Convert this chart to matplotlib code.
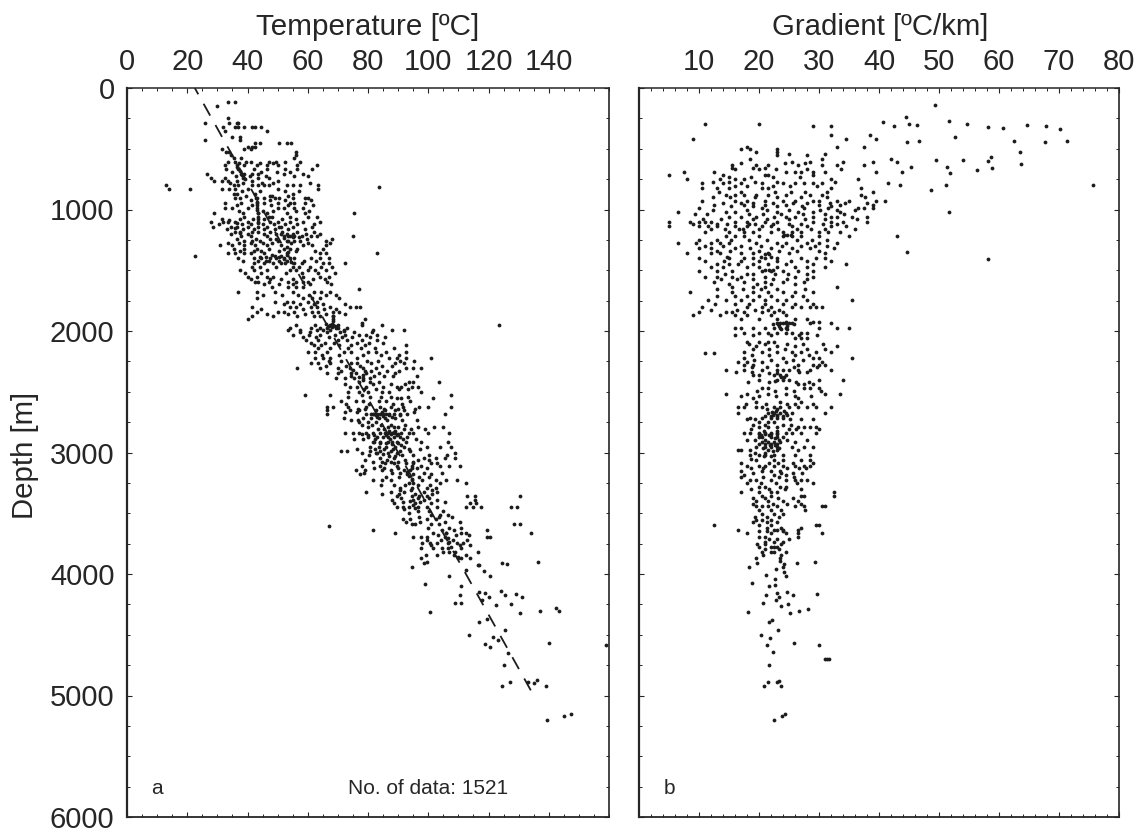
import matplotlib
matplotlib.use("Agg")
import matplotlib.pyplot as plt
from matplotlib.ticker import MultipleLocator

plt.rcParams['font.family'] = ['Liberation Sans', 'DejaVu Sans']

# each depth row (m) holds the temperatures (C) read at that depth
temp_depths = [112, 148, 250, 290, 318, 350, 400, 428, 455, 483, 505, 524, 551, 579, 606, 634, 669, 708, 743, 765,
               798, 812, 834, 872, 908, 944, 990, 1026, 1059, 1100, 1141, 1182, 1218, 1256, 1292, 1325, 1361, 1380,
               1402, 1443, 1498, 1553, 1594, 1635, 1657, 1676, 1731, 1759, 1800, 1841, 1877, 1904, 1931, 1950, 1978,
               1990, 2032, 2074, 2115, 2170, 2224, 2266, 2307, 2348, 2389, 2416, 2458, 2499, 2526, 2554, 2580, 2622,
               2650, 2685, 2712, 2745, 2792, 2836, 2869, 2910, 2951, 2984, 3006, 3042, 3075, 3108, 3143, 3179, 3226,
               3250, 3289, 3322, 3355, 3390, 3418, 3450, 3500, 3514, 3549, 3590, 3604, 3637, 3664, 3692, 3741, 3788,
               3815, 3870, 3899, 3904, 3912, 3921, 3926, 3940, 3967, 3975, 4014, 4080, 4099, 4140, 4151, 4154, 4165,
               4173, 4187, 4214, 4242, 4247, 4255, 4283, 4305, 4310, 4324, 4373, 4398, 4464, 4505, 4519, 4543, 4571,
               4579, 4582, 4598, 4648, 4752, 4873, 4889, 4892, 4894, 4925, 5152, 5171, 5202]
temp_values = [
    [33.5, 36], [30], [33.5], [26, 34, 36.5, 37], [32, 36, 37, 39, 41.5, 42.5, 44.5], [46.5, 32.5], [35, 37.5],
    [26, 37.5], [42.5, 44, 50.5, 53, 54.5], [40, 41.5, 42.5], [31.5, 39, 41], [33, 34, 56], [34.5, 56],
    [35.5, 38, 55.5], [33.5, 36, 39.5, 41, 47, 49.5, 52.5, 57.5], [32.5, 36.5, 39, 43, 46.5, 50, 56.5, 63],
    [33, 37, 42, 46.5, 52.5, 56.5, 61.5], [26.5, 38, 39, 41.5, 43.5, 52, 58.5], [28, 32.5, 38.5, 43.5, 47],
    [29, 31.5, 33.5, 36.5, 41.5, 50], [13, 35.5, 37, 41.5, 43.5, 45.5, 47, 53, 55, 57.5, 63.5], [83.5],
    [14, 21, 31.5, 34, 36, 40, 63.5, 50], [35.5, 36.5, 42.5, 55], [36, 37.5, 43, 45.5, 49, 50.5, 55, 60, 59],
    [32.5, 38, 43, 45.5, 50, 54, 55.5, 59], [32.5, 35, 40, 43, 50, 52, 55.5, 58.5], [29, 38.5, 43.5, 46.5, 53, 59, 75.5],
    [39, 43.5, 47, 48, 54, 60, 63], [28, 32, 33.5, 36, 40, 43.5, 47.5, 50, 54, 58.5, 64],
    [28.5, 34.5, 36.5, 40, 43.5, 46.5, 50.5, 51, 55, 61.5], [36, 37.5, 41.5, 43.5, 47.5, 51.5, 56.5, 62],
    [38, 41, 46.5, 52, 53.5, 55.5, 58, 61, 63, 75], [39, 41.5, 44, 50, 53, 55.5, 57.5, 66],
    [31, 35, 39, 42.5, 46.5, 51, 58.5, 61.5, 66], [35.5, 39, 43, 47, 52, 54, 56.5, 65],
    [33.5, 36, 39, 41, 45.5, 53, 83, 64, 66], [22.5], [37, 42, 44.5, 47.5, 49.5, 52, 55.5, 61, 64, 67],
    [42, 45.5, 48.5, 51, 52.5, 55.5, 58, 65, 67, 72.5], [37.5, 42, 46.5, 54, 56, 60, 62.5, 66],
    [40, 43, 46.5, 48.5, 58.5, 64, 67], [42.5, 43.5, 47, 53.5, 56, 58.5, 60, 66.5], [48, 53.5, 56, 58.5], [77],
    [37, 43, 49, 55, 62, 64.5, 67.5], [43, 58.5, 61.5, 64, 70.5], [49, 53, 55, 60, 63],
    [41.5, 54, 56, 61, 63, 67.5, 74, 76, 77.5], [43, 50, 52, 55.5, 61.5, 63.5, 68.5, 70.5],
    [41.5, 48.5, 56.5, 62, 64, 68.5], [40, 68.5, 79], [78], [56, 62.5, 67.5, 68.5, 70, 78, 84.5, 123.5],
    [54, 61, 64, 66.5, 69.5, 73], [53.5, 57.5, 63, 65, 67.5, 72, 81.5, 88, 92], [55, 60.5, 64, 69, 72.5, 77, 79.5, 83],
    [59.5, 63.5, 70, 73, 78, 83], [62, 64.5, 70.5, 74.5, 79, 92.5], [60, 62.5, 66.5, 72, 74.5, 80, 82.5, 86, 92.5],
    [62.5, 65, 67.5, 76.5, 87, 89.5, 92.5, 101], [61, 63.5, 67.5, 74.5, 76.5, 81, 89, 92],
    [56.5, 64, 70, 74, 78.5, 82.5, 92.5, 95, 97.5], [66.5, 70, 74.5, 79.5, 83.5, 89], [69.5, 72.5, 75.5, 78.5, 80.5],
    [77, 80.5, 83.5, 93.5, 95, 103.5], [74, 76.5, 79.5, 85, 89.5, 91, 94.5, 96.5], [73.5, 77, 80, 84.5, 87, 97.5],
    [59, 67.5, 78, 107.5], [89.5, 91, 101.5], [71, 76, 78.5, 83.5, 86, 94],
    [66.5, 68.5, 73.5, 79.5, 84, 87.5, 91.5, 97, 100, 107.5], [66.5, 74, 77, 82.5, 85.5, 89, 92],
    [66.5, 79.5, 81, 82, 83, 84, 85, 86, 87, 88.5, 90.5, 93, 105.5], [72, 78.5, 81, 83.5, 85.5, 89], [77, 80, 82.5],
    [80, 86.5, 88.5, 90, 96.5, 102, 105], [72.5, 75, 77, 79.5, 81.5, 84, 85.5, 86.5, 88, 89, 91, 93.5, 95, 100, 107],
    [80, 83, 85, 86.5, 88.5, 90.5, 93], [81.5, 84, 86.5, 88, 89.5, 92.5, 97.5, 106.5],
    [80.5, 83.5, 86, 89, 92, 99.5, 104, 107.5], [71, 73, 80.5, 84, 87.5, 90.5, 94], [78, 82.5, 86.5, 89.5, 109],
    [84, 88.5, 98.5, 102.5, 105.5, 109], [81.5, 84.5, 87.5, 90, 95], [78, 84, 89.5, 94.5, 97.5, 104, 107, 110.5],
    [76, 79, 84.5, 87.5, 92, 94], [77.5, 93, 95, 101], [81.5, 84.5, 87.5, 94.5, 98, 102.5, 106, 109.5],
    [93.5, 95, 104, 112.5], [90.5, 94.5, 99.5, 102.5], [79.5, 87.5, 92, 98.5, 103],
    [89.5, 94.5, 97, 99.5, 113, 115.5, 130.5], [88, 95, 98.5, 103, 115.5], [88.5, 95.5, 101, 114, 116],
    [89.5, 91.5, 93.5, 96.5, 99.5, 103, 112.5, 115, 117.5, 127.5, 129.5], [93.5], [101, 104, 106.5],
    [91.5, 94, 99.5, 102.5], [94.5, 95.5, 101, 103.5, 128.5, 130.5], [67], [81.5, 104.5, 108.5, 119.5],
    [89, 101.5, 106, 111, 112.5, 134], [95, 97.5, 99.5, 105.5, 120.5, 119.5], [98, 100.5, 103, 106.5, 109.5, 111.5],
    [97.5, 101.5, 104.5, 106.5, 111], [105, 109, 116.5, 107], [97.5, 111, 114, 110], [136.5], [99.5], [98.5, 124.5],
    [126], [117, 116.5], [94.5], [112.5], [118.5], [107, 120.5], [99], [111], [124], [117], [119], [129], [110.5, 125.5],
    [120, 131], [118], [109, 111], [127.5], [122.5], [142.5], [137, 143.5], [100.5], [130.5], [119.5], [117], [125.5],
    [113.5], [121.5], [123], [140], [119], [159], [120.5], [126.5], [125], [136], [133], [127], [135], [124.5, 139],
    [147.5], [145], [139.5]]

# second pass over the dense part of the cloud
temp_depths_dense = [620, 650, 680, 690, 715, 725, 750, 780, 850, 890, 905, 925, 935, 965, 1000, 1010, 1030, 1075, 1080,
                     1090, 1110, 1115, 1120, 1155, 1160, 1195, 1200, 1205, 1215, 1225, 1230, 1235, 1240, 1260, 1275,
                     1305, 1345, 1350, 1375, 1385, 1395, 1400, 1410, 1420, 1430, 1470, 1525, 1575, 1615, 1700, 1780,
                     1820, 1860, 1880, 1920, 1940, 1960, 1970, 1975, 2000, 2010, 2050, 2095, 2140, 2200, 2245, 2290,
                     2320, 2330, 2345, 2360, 2370, 2375, 2405, 2440, 2480, 2540, 2600, 2640, 2670, 2680, 2695, 2700,
                     2705, 2710, 2730, 2770, 2810, 2820, 2825, 2835, 2845, 2850, 2855, 2860, 2890, 2915, 2920, 2925,
                     2930, 2935, 2970, 3000, 3015, 3020, 3025, 3030, 3060, 3090, 3125, 3130, 3160, 3165, 3190, 3200,
                     3215, 3270, 3310, 3340, 3375, 3400, 3405, 3430, 3460, 3465, 3480, 3530, 3570, 3620, 3660, 3680,
                     3700, 3720, 3740, 3760, 3780, 3840, 3860]
temp_values_dense = [
    [37.3, 44.2, 48.4], [36.5], [37.5], [34.8, 44.6, 49.8, 54.2], [38.3], [36.2, 40.8, 46.2, 55.6, 60.2], [39.2],
    [34.2, 38.6, 44.8, 48.4, 60.6], [38.2, 44.2, 52.4, 57.2], [39.4, 47.6, 53.6, 48.2], [42.8], [41.2, 47.4, 52.6, 61],
    [43], [36.6, 41.4, 43, 47.8, 53.4, 61.6], [43.2], [37.2, 45.2, 48.6, 56.2, 60.4], [43.4],
    [31.4, 37.6, 41.8, 45.6, 51.4, 56.2], [43.6], [34], [36.5], [43.6], [30.6, 38.2, 41.2, 45.2, 48.8, 52.4, 56.4, 62.2],
    [36], [33.2, 38.4, 42.2, 45.4, 49.2, 53.4, 59.2], [37.5], [34.6, 40.2, 45.6, 49.4, 55, 59.4, 64.2], [51, 53], [54],
    [55], [57], [52], [36.4, 42.8, 47.4, 49.6, 59.6, 68], [53.5], [33.4, 37.2, 41, 45.2, 48.2, 54.6, 60.2, 67.4], [53],
    [37.4, 42.2, 44.6, 50.6, 56, 62.4], [53.5], [48, 53], [49, 51], [50.5, 46, 44], [54], [52],
    [38.4, 43.4, 46, 47, 50.4, 53, 58.6, 62.6], [54.5], [41.4, 44.2, 49.4, 55, 57, 60.6, 64.4, 68.2],
    [39.2, 44.6, 52.8, 58.2, 63.4, 69], [41.2, 47.6, 51.2, 55.2, 61.8, 65.6], [45.4, 50.6, 55, 60.8, 67.6],
    [45.2, 51.6, 56.8, 60.4, 66.2, 69.4], [52.2, 57.4, 62.2, 65.2, 72.2], [44.6, 58.4, 65.4, 69.4],
    [46.4, 53.6, 59.2, 66, 72.4], [68.5], [68.5], [68, 66], [67, 69], [68], [70], [72],
    [57.4, 60.6, 66.4, 70.6, 75.2, 81.2], [58.4, 62.6, 67, 71.4, 74.8, 80.6, 85.6], [61, 65.6, 68.6, 76.2, 80.4, 85],
    [63.4, 67.4, 73.2, 77.6, 82.2, 88.6], [64.8, 70.4, 78.2, 84.4, 90.4], [67, 71.2, 79.6, 83.4, 90.6, 95.4],
    [66, 72.6, 77.2, 84.6, 88], [75], [71.2, 79, 81, 86.2, 90.4], [76], [78.5], [74.2, 82, 85.2, 88.4, 96.2], [77], [78.5],
    [72.4, 81.6, 87.6, 92.2], [78.6, 82.6, 90.4, 93.2], [73.2, 80.6, 84.4, 87.6, 93.4], [72.6, 80.4, 88.2, 91.4],
    [76.6, 79, 85.2, 90, 95.6], [72.4, 76.4, 84.8, 95.2], [81.5], [82.5, 87, 90.5], [85], [83], [88],
    [74.4, 76.6, 86.4, 91.4, 96.4], [78, 81.2, 84.4, 87.6, 92.4], [83.2, 85.2, 91.8, 94.2, 99], [89], [87], [88.5], [90],
    [78, 87.5], [80, 86], [82, 89.5], [75.4, 78.4, 82.2, 87.4, 91.6, 95.8], [82], [86], [84, 90], [88], [91],
    [76.2, 82.2, 85.2, 88.4, 93.6, 97.4], [83], [85], [80.2, 91.2, 95, 100.4, 106.2], [87], [89],
    [79, 86.2, 92.4, 96.6, 100.4], [85.6, 88.6, 92.6, 95, 100.8, 103], [94.5], [82, 85.4, 90, 96.4, 99.6], [93],
    [78.6, 88, 90.6, 98.6, 104.6], [93.5], [86, 90.4, 97, 100.4], [94.5], [84.4, 88.6, 92.4, 96.6, 100.6],
    [90.6, 94.4, 101.4], [84.6, 90.4, 95.6, 101.2], [91, 96.6, 100.4], [94], [91.6, 97.4, 105.4], [95], [95.5], [92],
    [96.6, 100.4, 105], [97, 103.6, 108], [92.6, 97.4, 105.6, 110.4], [100, 107, 111], [106], [103.2, 109.2, 113.6],
    [106.5], [99.6, 104.2, 108.2, 113], [107], [101, 110.4, 114], [107.5], [99.4, 103, 108.4, 112.6], [110]]

line_depth = [0, 5000]
line_temp = [22.5, 135]

# gradient rows (C/km) by depth (m)
grad_depths = [140, 236, 272, 277, 294, 296, 299, 305, 310, 316, 321, 326, 337, 387, 403, 420, 433, 439, 444, 483, 505,
               524, 551, 565, 587, 595, 603, 606, 628, 634, 653, 655, 661, 675, 689, 697, 716, 752, 785, 796, 801, 826,
               840, 880, 927, 963, 990, 1018, 1059, 1100, 1136, 1182, 1218, 1278, 1320, 1350, 1355, 1402, 1410, 1449,
               1503, 1553, 1594, 1635, 1676, 1745, 1800, 1841, 1870, 1923, 1936, 1978, 2019, 2055, 2087, 2123, 2170,
               2183, 2224, 2252, 2279, 2320, 2362, 2403, 2438, 2471, 2518, 2554, 2581, 2628, 2677, 2700, 2713, 2745,
               2792, 2836, 2850, 2875, 2910, 2930, 2951, 2979, 3020, 3061, 3108, 3149, 3184, 3226, 3280, 3322, 3357,
               3396, 3439, 3505, 3555, 3596, 3637, 3664, 3697, 3733, 3774, 3815, 3870, 3893, 3899, 3907, 3912, 3918,
               3940, 3945, 3962, 3981, 4011, 4014, 4044, 4077, 4091, 4099, 4151, 4159, 4167, 4173, 4187, 4214, 4242,
               4247, 4261, 4291, 4302, 4310, 4324, 4379, 4398, 4464, 4505, 4530, 4568, 4582, 4585, 4645, 4700, 4752,
               4878, 4889, 4892, 4925, 5152, 5171, 5204]
grad_values = [
    [49.4], [44.5], [51.7], [40.7], [45], [11, 20], [54.7], [46.4, 64.7], [29, 32, 42.5], [67.8], [58.1], [60.7], [70.2],
    [32, 38.5], [52.7], [9, 34.5, 39.5], [46.7], [62.5, 71.3], [44.6, 67.7], [33, 37.5, 18], [17, 18.5, 23], [19.5, 23, 63.5],
    [23, 28], [58.6], [18.5, 42, 30.5], [49.5, 54], [58.1], [25.5, 28.5, 39, 34, 43], [63.7],
    [15.5, 19.5, 21.5, 26.5, 30.5, 33, 37.5], [45.3, 51.3], [15.5, 19, 21], [58.8], [56.3],
    [12.5, 7.5, 24.5, 26, 27, 29, 31, 39.5, 43.8], [51.8], [5, 14, 21.5, 21, 29], [8, 13.5, 16, 17.5, 32, 36.5],
    [10.5, 14, 17, 20.5, 24, 26, 27.5, 29, 30.5, 41.5], [43.5, 51.2], [75.7], [10.5, 13, 15, 20.5, 21.5, 37, 32], [48.6],
    [14.5, 16, 17.5, 19.5, 21.5, 24.5, 28.5, 30.5, 37], [10.5, 16, 18, 21, 24, 26, 29, 30, 33, 35, 39.5, 41],
    [12.5, 17.5, 21, 24.5, 30, 33.5, 39], [10, 20.5, 27.5, 31.5, 36.5, 37.5, 39], [6.5, 14.5, 16, 23, 26.5, 29, 33.5, 51.7],
    [15, 17, 19.5, 22.5, 24.5, 26, 29, 32, 33, 35.5, 38], [5, 8.5, 10, 11, 12, 16, 18, 21, 23, 29, 32, 34, 38],
    [5, 10, 11.5, 13, 16, 18, 20.5, 22, 25.5, 28, 32, 34.5], [11, 15, 17.5, 19, 22, 24, 25.5, 27, 30, 31.5, 33.5],
    [14.5, 16, 17.5, 20, 24, 25.5, 27, 30, 35, 43], [6.5, 9.5, 12, 13.5, 15, 19.5, 23, 24.5, 28, 30, 33],
    [10, 12, 16, 18.5, 22, 25.5, 28.5, 32.5], [44.6], [8, 12, 13.5, 17, 19, 21.5, 25, 31],
    [10, 15, 17.5, 19, 21, 23, 27, 29.5, 31], [58.1], [13, 15, 16.5, 19, 21.5, 24.5, 29, 34.5],
    [10, 13, 15.5, 20.5, 22, 24, 26.5, 29], [11, 13, 15.5, 17, 21, 26, 29], [12.5, 17.5, 21, 24, 27.5], [15.5, 19, 21, 33],
    [8.5, 15.5, 19, 21.5, 24, 26, 29], [11.5, 14.5, 17, 19, 21, 23, 24.5, 35.5, 28], [10.5, 18, 20.5, 22, 25.5, 27, 28.5, 29.5, 30.5],
    [10, 14.5, 15.5, 17.5, 20.5, 22.5, 24], [9, 13.5, 16, 18, 22, 24.5], [24.5, 29, 30],
    [23, 23.5, 24, 24.5, 25, 25.5, 28.5, 32], [16, 17, 19, 21, 22.5, 23.5, 24.5, 30, 33, 35],
    [17.5, 20, 21.5, 23, 24.5, 25.5, 28, 27], [26, 27, 28], [18, 20, 21.5, 22.5], [19.5, 23, 26, 33],
    [17.5, 20.5, 23, 25.5, 27, 29.5, 32], [11, 12.5], [17.5, 24, 29, 30, 35.5], [16.5, 18, 20.5, 24.5, 30.5],
    [17.5, 19, 23, 26.5, 29, 30, 31], [14.5, 17.5, 20.5, 23, 24, 25, 26.5, 28.5, 32], [19, 20, 22.5, 23.5, 24.5],
    [20, 23, 24, 25, 30, 34], [26.5, 27.5, 29], [20.5, 21.5, 24.5, 27.5, 28.5, 30], [14.5, 18, 21.5, 24.5, 33.5, 31],
    [19, 26.5], [19.5, 23.5, 27], [16.5, 17.5, 19.5, 20.5, 22.5, 23.5, 25, 26.5, 28, 29.5, 32],
    [16.5, 21.5, 22.5, 23.5, 24.5, 25.5, 31], [21, 22, 23, 24], [18.5, 20.5, 22, 23, 24], [20, 21.5, 22.5],
    [20, 21.5, 23, 26.5, 27.5, 28.5, 29.5], [17.5, 18.5, 20, 21, 22, 23, 24.5, 25.5, 27, 29.5], [20, 21, 22, 23],
    [20, 20.5, 22, 23, 24], [20.5, 21.5, 22.5, 23.5, 26], [20, 21, 22, 23], [19.5, 21, 22, 23, 25.5, 27.5, 29],
    [16.5, 17, 18.5, 21.5, 23, 26.5], [18.5, 20, 21, 22.5, 24, 26, 28.5], [19.5, 22.5, 24, 27, 28.5],
    [18, 20, 21, 22.5, 24, 26, 27.5, 28.5], [17, 20.5, 22, 23.5], [17.5, 22.5, 24.5], [18.5, 19.5, 22, 24.5, 26, 27, 28],
    [20, 21, 23.5, 24.5], [17, 20, 22, 23, 32.5], [20.5, 22, 27, 27.5, 32.5], [19.5, 21.5, 24, 26.5],
    [19.5, 20.5, 21.5, 23, 26, 27.5, 30.5, 31], [20.5, 22.5, 24], [19.5, 20.5, 22], [12.5, 20, 22, 29.5, 30],
    [16.5, 22.5, 23, 24, 26.5], [18, 22, 24.5, 30.5, 26.5], [20, 21, 26.5], [21, 22.5, 24], [22.5, 20, 22, 23],
    [20.5, 22, 22.5, 24.5], [19.5, 23.5], [23.5], [29.4], [19.6], [26.3], [24.2], [18.4], [24], [22.8], [24.2], [21.2],
    [24.5], [22.7], [18.9], [22.7], [21.7], [24.7], [23], [29.6], [21.2, 25.6], [23.4], [22.8], [20.7], [24.8], [23.6],
    [28.2], [26.7], [18.2], [25.1], [22.1], [21.6], [23.2], [20.3], [21.9], [25.9], [30], [21.3], [22.4],
    [31, 31.3, 31.6], [21.6], [23.4], [23], [21.5], [20.8, 23.7], [24.4], [23.8], [22.5]]

# second pass over the dense part of the gradient cloud
grad_depths_dense = [540, 620, 670, 735, 770, 805, 855, 900, 945, 975, 1005, 1040, 1080, 1120, 1160, 1250, 1300, 1340,
                     1425, 1475, 1530, 1575, 1610, 1655, 1710, 1775, 1825, 1900, 2035, 2105, 2145, 2200, 2240, 2300,
                     2340, 2420, 2495, 2535, 2600, 2725, 2770, 2810, 2900, 3085, 3130, 3165, 3205, 3255, 3300, 3375,
                     3420, 3470, 3530, 3575, 3620, 3650, 3715, 3755, 3795, 3840, 1210, 1370, 1395, 1495, 1945, 1960,
                     1985, 2345, 2380, 2410, 2640, 2655, 2665, 2690, 2820, 2860, 2880, 2895, 2940, 2960, 2990, 3005,
                     3030, 3050]
grad_values_dense = [
    [25, 31], [17, 24.4, 27.6], [16, 20, 22.8, 28, 33.6], [15, 18.6, 22.4, 26.8], [12.4, 15, 19.4, 23, 32.6],
    [16, 18, 22.4, 25.2, 29.6], [13.4, 17, 22.6, 25.4, 27.6, 31.4, 39], [12.4, 15.2, 19.4, 23, 27, 31.4, 37.6],
    [14, 17, 19, 22.4, 25.6, 28, 31.8, 34.4, 38], [15.4, 19, 23, 27.2, 32], [12.4, 18, 21.4, 25, 30.2, 33, 36],
    [9.4, 11.4, 18.4, 20.6, 23.6, 27.4, 31, 34.2], [10.6, 13.6, 19, 21.4, 25, 27.6, 31, 36.4],
    [9, 13, 14.6, 18.4, 19.4, 22.4, 25, 27, 30.6, 33], [12, 14.4, 16.6, 17.4, 20, 23.2, 26.4, 28.6, 31, 36],
    [10, 13, 15.4, 18.4, 21.4, 26.4, 28.8, 31.4], [11, 14, 17, 20.4, 23.8, 27, 29.4, 31.4], [13, 15.2, 20, 23.4, 26.4, 30],
    [11, 14.2, 17, 20, 23, 25.4, 28, 32], [12, 14, 18, 20, 23, 26, 28, 31], [14.4, 18, 19, 22.6, 24.8, 28],
    [13.6, 16.4, 19, 22.4, 24.6, 28], [15, 19.6, 22, 26], [13, 17.4, 20.4, 23, 27.6], [13, 16, 18, 20, 22, 25.5, 27.4],
    [12.6, 16, 18.4, 21, 24, 26, 29], [12, 16.4, 19.4, 21.5, 23.4], [17, 20, 23, 26, 28], [16, 19, 22, 26.6, 29.6],
    [18.4, 21, 24.6, 27.4, 30.6], [19, 21.6, 24.4, 28, 31], [18.8, 21.6, 26, 28.4], [19.2, 22, 25.6, 27.4],
    [18.8, 21.4, 25.8, 29.6], [16.2, 18.8, 26.6, 28], [18.2, 21.6, 26.2, 28.4], [19.6, 22.6, 25.8, 30.4],
    [17, 20, 22.8, 26, 28.6], [17.8, 21.2, 24.6, 26, 29], [18, 19.4, 25.2, 27, 29], [19, 21, 24, 25.4],
    [18.6, 25, 26.2, 30], [18, 19.4, 24.6, 28], [17, 21.6, 23.2, 25.6, 29], [18.6, 20.6, 24.6, 26.6, 27.8],
    [19, 23.6, 25.6, 27.2], [17, 20.6, 23.4, 25.8], [18, 20.4, 22.8, 26.4, 29], [18.6, 21.6, 24.4, 27],
    [19, 21, 23.2, 25.6], [19, 22.4, 24.6, 27], [20, 22, 23.6, 27.6], [19.4, 21.4, 23.4], [19, 21.4, 23],
    [21.4, 23.6, 27], [20, 21.4, 24], [21.6, 23, 25], [19.6, 21, 23.6], [21, 23.4], [20.6, 23.6], [24.2, 24.6, 25.4],
    [21, 21.6], [22, 20.4, 14.6], [21, 21.6, 22.4], [22.4, 23.2, 25.8], [24.6, 23.4], [24.6, 23.6], [21.6, 23],
    [24.2, 23.6], [22.6], [23, 21.4], [24.2, 22.8], [22.2], [23, 22.4, 24.6], [20.8, 23], [20.4, 21.6], [22.6], [21, 23.4],
    [21.8, 22.6], [20.6, 23.4], [22.4], [21, 19.4], [20.8, 22], [18.6]]

temp_ticks = [0, 20, 40, 60, 80, 100, 120, 140]
grad_ticks = [10, 20, 30, 40, 50, 60, 70, 80]
depth_ticks = [0, 1000, 2000, 3000, 4000, 5000, 6000]

W, H = 1145, 832
TXT = "#262626"
DOT = "#1c1c1c"


def flatten(depths, rows):
    xs, ys = [], []
    for d, row in zip(depths, rows):
        for v in row:
            xs.append(v)
            ys.append(d)
    return xs, ys


def setup(ax, xmax, xticks, xminor):
    ax.set_xlim(0, xmax)
    ax.set_ylim(6000, 0)
    ax.set_xticks(xticks)
    ax.set_yticks(depth_ticks)
    ax.xaxis.set_minor_locator(MultipleLocator(xminor))
    ax.yaxis.set_minor_locator(MultipleLocator(250))
    ax.tick_params(which="major", direction="in", top=True, bottom=True, left=True, right=True,
                   labeltop=True, labelbottom=False, length=3.6, width=0.8, labelsize=21, colors=TXT, pad=9)
    ax.tick_params(which="minor", direction="in", top=True, bottom=True, left=True, right=True,
                   length=2, width=0.7, colors=TXT)
    ax.spines["left"].set_linewidth(1.6)
    ax.spines["right"].set_linewidth(1.2)
    ax.spines["top"].set_linewidth(1.1)
    ax.spines["bottom"].set_linewidth(1.3)
    for s in ax.spines.values():
        s.set_color(TXT)


fig = plt.figure(figsize=(W / 100, H / 100), dpi=100)
ax1 = fig.add_axes([127 / W, 1 - 817 / H, 482 / W, 729 / H])
ax2 = fig.add_axes([639 / W, 1 - 817 / H, 480 / W, 729 / H])

setup(ax1, 160, temp_ticks, 5)
setup(ax2, 80, grad_ticks, 2)
ax2.tick_params(axis="y", which="major", labelleft=False)

t, d = flatten(temp_depths + temp_depths_dense, temp_values + temp_values_dense)
ax1.scatter(t, d, s=7.5, c=DOT, linewidths=0, clip_on=False, zorder=3)
ax1.plot(line_temp, line_depth, color=DOT, lw=1.3, ls=(3.5, (7.5, 6)), dash_capstyle="butt", zorder=2)

g, d = flatten(grad_depths + grad_depths_dense, grad_values + grad_values_dense)
ax2.scatter(g, d, s=7.5, c=DOT, linewidths=0, clip_on=False, zorder=3)

fig.text(368 / W, 1 - 27 / H, "Temperature [ºC]", ha="center", va="center", fontsize=21.3, color=TXT)
fig.text(880 / W, 1 - 27 / H, "Gradient [ºC/km]", ha="center", va="center", fontsize=21.2, color=TXT)
fig.text(25 / W, 1 - 455 / H, "Depth [m]", rotation=90, ha="center", va="center", fontsize=21.2, color=TXT)

fig.text(157 / W, 1 - 789 / H, "a", ha="center", va="center", fontsize=15, color=TXT)
fig.text(669 / W, 1 - 789 / H, "b", ha="center", va="center", fontsize=15, color=TXT)
fig.text(428 / W, 1 - 789 / H, "No. of data: 1521", ha="center", va="center", fontsize=15, color=TXT)

fig.savefig("out.png", dpi=100)
